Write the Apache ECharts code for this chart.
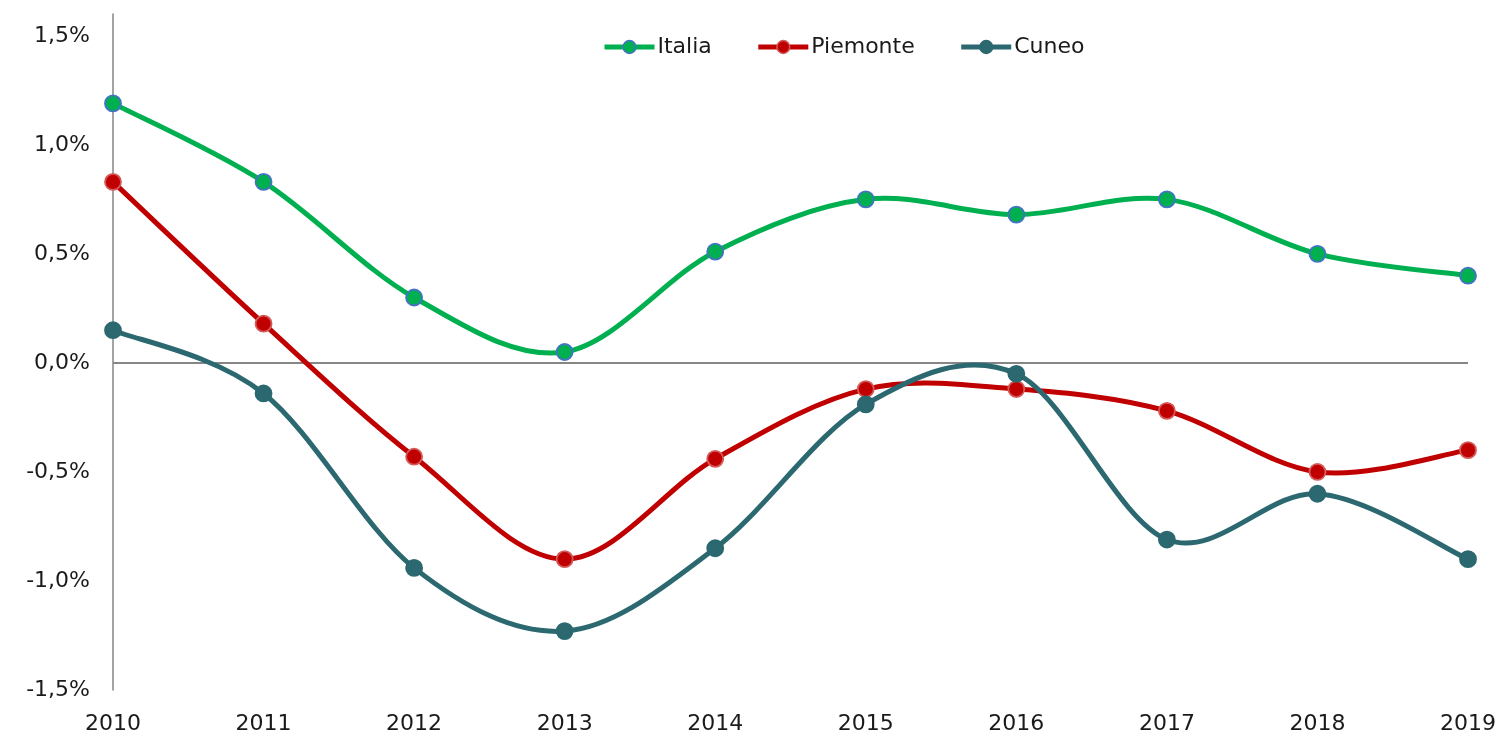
<!DOCTYPE html>
<html>
<head>
<meta charset="utf-8">
<script src="https://cdn.jsdelivr.net/npm/echarts@6/dist/echarts.min.js"></script>
<style>html,body{margin:0;padding:0;background:#fff;}#c{width:1501px;height:738px;}</style>
</head>
<body>
<div id="c"></div>
<script>
const years = ['2010','2011','2012','2013','2014','2015','2016','2017','2018','2019'];
const italia = [1.19, 0.83, 0.30, 0.05, 0.51, 0.75, 0.68, 0.75, 0.50, 0.40];
const piemonte = [0.83, 0.18, -0.43, -0.90, -0.44, -0.12, -0.12, -0.22, -0.50, -0.40];
const cuneo = [0.15, -0.14, -0.94, -1.23, -0.85, -0.19, -0.05, -0.81, -0.60, -0.90];
const seriesNames = ['Italia', 'Piemonte', 'Cuneo'];

const FONT = 'DejaVu Sans';
const COLORS = ['#00B050', '#C00000', '#2B6870'];
const BORDERS = ['#4472C4', '#D45A5A', '#2B6870'];
const DATA = [italia, piemonte, cuneo];

const chart = echarts.init(document.getElementById('c'));

// Excel-like smoothed segment (Catmull-Rom style bezier), positions via api.coord
function curveSeries(k) {
  const vals = DATA[k];
  return {
    name: seriesNames[k], type: 'custom', coordinateSystem: 'cartesian2d',
    z: 2, silent: true,
    data: vals.map(function (v, i) { return [i, v]; }),
    encode: { x: 0, y: 1 },
    renderItem: function (params, api) {
      const i = params.dataIndex;
      const n = vals.length;
      if (i >= n - 1) return null;
      const P = function (j) { j = Math.max(0, Math.min(n - 1, j)); return api.coord([j, vals[j]]); };
      const p0 = P(i - 1), p1 = P(i), p2 = P(i + 1), p3 = P(i + 2);
      const t = 1 / 6;
      return {
        type: 'bezierCurve',
        shape: {
          x1: p1[0], y1: p1[1], x2: p2[0], y2: p2[1],
          cpx1: p1[0] + (p2[0] - p0[0]) * t, cpy1: p1[1] + (p2[1] - p0[1]) * t,
          cpx2: p2[0] - (p3[0] - p1[0]) * t, cpy2: p2[1] - (p3[1] - p1[1]) * t
        },
        style: { stroke: COLORS[k], lineWidth: 5, fill: null, lineCap: 'round' }
      };
    }
  };
}
function markerSeries(k, extra) {
  return Object.assign({
    name: seriesNames[k], type: 'line', data: DATA[k], z: 3,
    symbol: 'circle', symbolSize: 16, showSymbol: true,
    lineStyle: { color: COLORS[k], width: 0, opacity: 0 },
    itemStyle: { color: COLORS[k], borderColor: BORDERS[k], borderWidth: 1.8 },
    emphasis: { disabled: true }, silent: true
  }, extra || {});
}

chart.setOption({
  animation: false,
  backgroundColor: '#fff',
  grid: { left: 113, right: 33, top: 14, bottom: 48, containLabel: false },
  legend: {
    top: 31, left: 597, itemWidth: 50, itemHeight: 16, itemGap: 44,
    textStyle: { fontFamily: FONT, fontSize: 22, color: '#1a1a1a', padding: [0, 0, 0, -2] },
    data: seriesNames.map(function (nm, k) {
      return { name: nm, lineStyle: { color: COLORS[k], width: 5, opacity: 1 },
               itemStyle: { color: COLORS[k], borderColor: BORDERS[k], borderWidth: 1.5 } };
    })
  },
  xAxis: {
    type: 'category', data: years, boundaryGap: false,
    axisLine: { show: false }, axisTick: { show: false },
    axisLabel: { fontFamily: FONT, fontSize: 22, color: '#1a1a1a', margin: 23 },
    splitLine: { show: false }
  },
  yAxis: {
    type: 'value', min: -1.5, max: 1.6, interval: 0.5,
    axisLine: { show: true, lineStyle: { color: '#868686', width: 1.5 } },
    axisTick: { show: false },
    splitLine: { show: false },
    axisLabel: {
      fontFamily: FONT, fontSize: 22, color: '#1a1a1a', margin: 23, showMaxLabel: false,
      formatter: function (v) { return v.toFixed(1).replace('.', ',') + '%'; }
    }
  },
  series: [
    markerSeries(0, {
      markLine: {
        silent: true, symbol: 'none', label: { show: false }, z: 1,
        lineStyle: { color: '#868686', width: 2, type: 'solid', opacity: 1 },
        data: [{ yAxis: 0 }]
      }
    }),
    markerSeries(1),
    markerSeries(2),
    curveSeries(0),
    curveSeries(1),
    curveSeries(2)
  ]
});
</script>
</body>
</html>
